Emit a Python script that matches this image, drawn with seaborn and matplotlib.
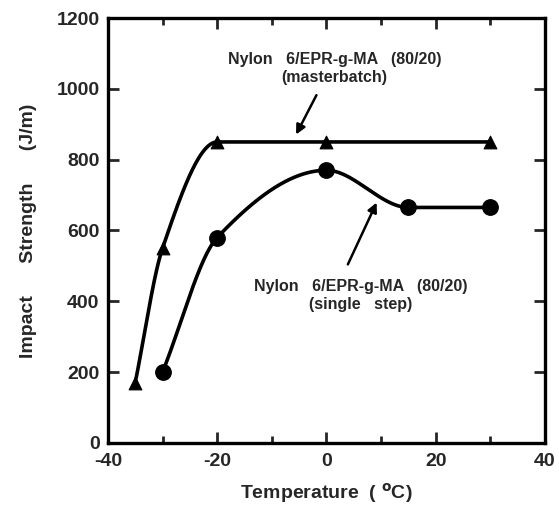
import numpy as np
import pandas as pd
import matplotlib
matplotlib.use("Agg")
import matplotlib.pyplot as plt
import seaborn as sns

# Data
temp_master = [-35, -30, -20, 0, 30]
impact_master = [170, 550, 850, 850, 850]
temp_single = [-30, -20, 0, 15, 30]
impact_single = [200, 580, 770, 665, 665]

x_ticks = [-40, -20, 0, 20, 40]
y_ticks = [0, 200, 400, 600, 800, 1000, 1200]

label_master = "Nylon   6/EPR-g-MA   (80/20)\n(masterbatch)"
label_single = "Nylon   6/EPR-g-MA   (80/20)\n(single   step)"

sns.set_theme(style="ticks")
plt.rcParams['font.family'] = ['Liberation Sans', 'DejaVu Sans']
plt.rcParams['font.weight'] = 'bold'
plt.rcParams['axes.unicode_minus'] = False


def pchip(x, y, n=200):
    x = np.asarray(x, float)
    y = np.asarray(y, float)
    h = np.diff(x)
    d = np.diff(y) / h
    m = np.zeros_like(y)
    for k in range(1, len(x) - 1):
        if d[k - 1] * d[k] <= 0:
            m[k] = 0.0
        else:
            w1 = 2 * h[k] + h[k - 1]
            w2 = h[k] + 2 * h[k - 1]
            m[k] = (w1 + w2) / (w1 / d[k - 1] + w2 / d[k])
    m[0] = d[0]
    m[-1] = d[-1] if abs(d[-1]) > 0 else 0.0
    xs, ys = [], []
    for k in range(len(x) - 1):
        t = np.linspace(0, 1, n)
        hk = h[k]
        h00 = 2 * t**3 - 3 * t**2 + 1
        h10 = t**3 - 2 * t**2 + t
        h01 = -2 * t**3 + 3 * t**2
        h11 = t**3 - t**2
        xs.append(x[k] + t * hk)
        ys.append(h00 * y[k] + h10 * hk * m[k] + h01 * y[k + 1] + h11 * hk * m[k + 1])
    return np.concatenate(xs), np.concatenate(ys)


fig = plt.figure(figsize=(5.59, 5.15), dpi=100)
ax = fig.add_axes([0.193, 0.140, 0.782, 0.825])

xm, ym = pchip(temp_master, impact_master)
xs, ys = pchip(temp_single, impact_single)
ax.plot(xm, ym, color='black', lw=2.6, solid_capstyle='round')
ax.plot(xs, ys, color='black', lw=2.6, solid_capstyle='round')

dfm = pd.DataFrame({'T': temp_master, 'I': impact_master})
dfs = pd.DataFrame({'T': temp_single, 'I': impact_single})
sns.scatterplot(data=dfm, x='T', y='I', marker='^', s=85, color='black',
                edgecolor='black', ax=ax, zorder=3)
sns.scatterplot(data=dfs, x='T', y='I', marker='o', s=125, color='black',
                edgecolor='black', ax=ax, zorder=3)

ax.set_xlim(-40, 40)
ax.set_ylim(0, 1200)
ax.set_xticks(x_ticks)
ax.set_yticks(y_ticks)
ax.set_xticks([-30, -10, 10, 30], minor=True)
ax.tick_params(axis='both', which='major', direction='in', length=8, width=2,
               top=True, right=True, labelsize=14)
ax.tick_params(axis='x', which='major', pad=7)
ax.tick_params(axis='y', which='major', pad=6)
ax.tick_params(axis='x', which='minor', direction='in', length=5, width=2,
               top=True, bottom=True)
for lab in ax.get_xticklabels() + ax.get_yticklabels():
    lab.set_fontweight('bold')
for sp in ax.spines.values():
    sp.set_linewidth(2.4)
    sp.set_color('black')

ax.set_xlabel("Temperature  ( $\\mathbf{^o}$C)", fontsize=14, fontweight='bold', labelpad=8)
ax.set_ylabel("Impact      Strength      (J/m)", fontsize=14, fontweight='bold', labelpad=14)

ax.text(1.5, 1058, label_master, ha='center', va='center', fontsize=11.5,
        fontweight='bold', linespacing=1.25)
ax.text(6.3, 417, label_single, ha='center', va='center', fontsize=11.5,
        fontweight='bold', linespacing=1.25)

ax.annotate('', xy=(-5.8, 864), xytext=(-1.6, 989),
            arrowprops=dict(arrowstyle='-|>', color='black', lw=1.8,
                            mutation_scale=14))
ax.annotate('', xy=(9.4, 686), xytext=(3.7, 497),
            arrowprops=dict(arrowstyle='-|>', color='black', lw=1.8,
                            mutation_scale=14))

fig.savefig('out.png', dpi=100)
